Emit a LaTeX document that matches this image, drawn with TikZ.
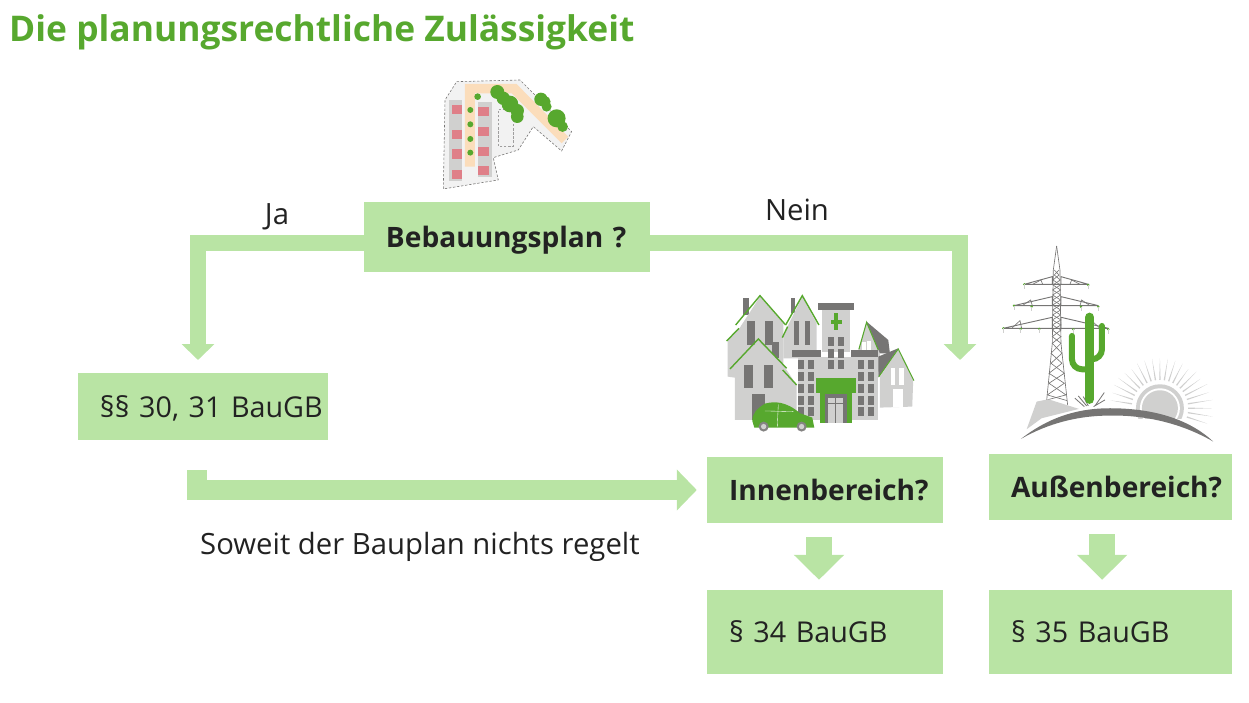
\documentclass[tikz,border=0pt]{standalone}
\usepackage{fontspec}
\setmainfont{Open Sans}
\usepackage{xcolor}
\usetikzlibrary{arrows.meta,calc}
\definecolor{boxgreen}{HTML}{B9E4A4}
\definecolor{leaf}{HTML}{57A82E}
\definecolor{ink}{HTML}{222222}
\definecolor{wall}{HTML}{D0D0CF}
\definecolor{slate}{HTML}{767574}
\definecolor{sand}{HTML}{FBDDBB}
\definecolor{brick}{HTML}{DF7F88}
\tikzset{
  box/.style={fill=boxgreen,inner ysep=0pt,inner xsep=.66cm,align=left,text=ink,text depth=0pt,font=\fontsize{24.5}{30}\selectfont},
  flow/.style={draw=boxgreen,line width=.48cm,-{Triangle[width=.96cm,length=.48cm]}},
  stub/.style={draw=boxgreen,line width=.78cm,-{Triangle[width=1.47cm,length=.75cm]},shorten <=.42cm,shorten >=.3cm},
  lbl/.style={text=ink,inner sep=0pt,font=\fontsize{25}{30}\selectfont},
  pic/.style={shift={#1},x=.01cm,y=-.01cm},
  mast/.style={draw=slate,line width=.55pt}
}
\begin{document}
\frenchspacing
\begin{tikzpicture}[x=.03cm,y=-.03cm]
\useasboundingbox (0,0) rectangle (1249,703);
\node[anchor=base west,inner sep=0pt,text=leaf,font=\fontsize{30.2}{34}\selectfont\bfseries] (title) at (9,42) {Die planungsrechtliche Zulässigkeit};
% boxes
\node[box,text width=7.26cm,minimum height=2.1cm,font=\fontsize{24}{30}\selectfont\bfseries] (bplan) at (507,237) {\mbox{Bebauungsplan ?}};
\node[box,text width=6.18cm,minimum height=2.01cm] (para3031) at (203,406.5) {\mbox{§§ 30, 31 BauGB}};
\node[box,text width=5.76cm,minimum height=1.98cm,font=\fontsize{24}{30}\selectfont\bfseries] (innen) at (825,490) {Innenbereich?};
\node[box,text width=5.97cm,minimum height=1.98cm,font=\fontsize{24}{30}\selectfont\bfseries] (aussen) at (1110.5,487) {Außenbereich?};
\node[box,text width=5.76cm,minimum height=2.52cm] (para34) at (825,632) {§ 34 BauGB};
\node[box,text width=5.97cm,minimum height=2.52cm] (para35) at (1110.5,632) {§ 35 BauGB};
\node[lbl] (ja) at (277,217) {Ja};
\node[lbl] (nein) at (797,210) {Nein};
\node[lbl,anchor=west] (soweit) at (200,547) {Soweit der Bauplan nichts regelt};
% connectors
\coordinate (jaend) at (198,360);
\coordinate (neinend) at (960,360);
\coordinate (bstart) at (197,470);
\draw[flow] (bplan.west |- 0,242.5) -| (jaend);
\draw[flow] (bplan.east |- 0,242.5) -| (neinend);
\draw[flow,line width=.6cm,-{Triangle[width=1.2cm,length=.6cm]},shorten >=.3cm] (bstart) |- (innen.west);
\draw[stub] ([xshift=-.18cm]innen.south) -- ([xshift=-.18cm]para34.north);
\draw[stub] ([xshift=-.25cm]aussen.south) -- ([xshift=-.25cm]para35.north);
% plan
\begin{scope}[pic={(430,70)}]
\fill[black!5] (80,35) -- (270,30) -- (425,185) -- (395,243) -- (310,170) -- (265,240) -- (190,263) -- (205,330) -- (40,357) -- (45,90) -- cycle;
\fill[wall] (57,90) rectangle (97,332);
\fill[wall] (143,95) rectangle (185,320);
\fill[sand] (105,42) -- (260,42) -- (415,200) -- (395,220) -- (245,70) -- (135,70) -- (135,290) -- (105,290) -- cycle;
\draw[slate,line width=.5pt,dash pattern=on 2pt off 1.5pt] (80,35) -- (270,30) -- (425,185) -- (395,243) -- (310,170) -- (265,240) -- (190,263) -- (205,330) -- (40,357) -- (45,90) -- cycle;
\draw[slate!70,line width=.5pt,dash pattern=on 2pt off 1.5pt] (250,150) -- (250,228) -- (205,228) -- (205,118) -- (225,118);
\foreach\y in {105,180,238,300}{\fill[brick] (66,\y) rectangle +(31,28);}
\foreach\y in {110,170,230,288}{\fill[brick] (145,\y) rectangle +(32,27);}
\foreach\y in {120,163,207,248}{\fill[leaf] (121,\y) circle[radius=9];}
\fill[leaf] (143,80) circle[radius=10];
\foreach\x/\y/\r in {202/66/21,220/85/20,240/102/25,262/122/20,262/140/19,333/88/20,345/95/17,350/110/15,380/145/27,398/170/16}{\fill[leaf] (\x,\y) circle[radius=\r];}
\end{scope}
% town
\begin{scope}[pic={(715,285)}]
\fill[wall] (430,195) -- (455,110) -- (495,200) -- (495,260) -- (430,260) -- cycle;
\fill[slate] (455,110) -- (520,165) -- (525,205) -- (495,205) -- cycle;
\fill[white] (440,172) rectangle (452,195);
\fill[white] (456,168) rectangle (468,195);
\draw[leaf,line width=.9pt] (432,193) -- (455,112) -- (490,195);
\fill[wall] (495,275) -- (550,195) -- (595,285) -- (592,365) -- (495,368) -- cycle;
\fill[slate] (490,215) -- (550,190) -- (490,278) -- cycle;
\fill[white] (527,250) rectangle (540,300);
\fill[white] (553,250) rectangle (567,300);
\fill[white] (533,313) rectangle (563,365);
\draw[leaf,line width=.9pt] (492,275) -- (550,192) -- (597,287);
% houses at the back
\fill[slate] (83,38) rectangle (102,90);
\fill[slate] (227,38) rectangle (240,85);
\fill[wall] (38,168) -- (70,135) -- (135,35) -- (205,115) -- (205,300) -- (38,275) -- cycle;
\fill[wall] (205,150) -- (262,35) -- (305,115) -- (305,220) -- (205,220) -- cycle;
\draw[leaf,line width=1.2pt] (35,168) -- (72,130) (62,120) -- (135,32) -- (212,120);
\draw[leaf,line width=1.2pt] (202,158) -- (218,125) (212,120) -- (262,32) -- (312,120);
\foreach\x/\w in {97/23,150/24,237/15,270/16}{\fill[slate] (\x,108) rectangle +(\w,72);}
\fill[slate] (172,170) rectangle (192,220);
% hospital
\fill[wall] (320,75) rectangle (405,200);
\fill[wall] (248,215) rectangle (490,405);
\fill[slate] (310,55) rectangle (417,75);
\fill[slate] (232,195) rectangle (318,215);
\fill[slate] (407,195) rectangle (490,215);
\fill[leaf] (347,105) rectangle (382,118);
\fill[leaf] (358,85) rectangle (370,135);
\foreach\y in {155,192,225}{\fill[slate] (340,\y) rectangle +(18,28);\fill[slate] (368,\y) rectangle +(19,28);}
\foreach\y in {225,261,297,333,366}{\foreach\x in {250,278,430,458}{\fill[slate] (\x,\y) rectangle +(18,27);}}
\fill[leaf] (303,280) rectangle (424,325);
\fill[leaf] (315,325) rectangle (410,413);
\fill[slate] (330,328) rectangle (397,413);
\fill[wall] (340,340) rectangle (385,413);
\fill[slate] (361,340) rectangle (364,413);
\fill[slate] (340,353) rectangle (385,357);
% front house
\fill[wall] (60,405) -- (60,250) -- (130,165) -- (205,240) -- (245,300) -- (245,405) -- cycle;
\draw[leaf,line width=1.2pt] (45,252) -- (130,162) -- (215,250) (203,255) -- (245,300);
\foreach\x in {88,148}{\fill[slate] (\x,240) rectangle +(27,70);}
\fill[slate] (110,328) rectangle (150,405);
% car
\fill[leaf] (112,408) .. controls (112,385) and (125,372) .. (150,356) .. controls (180,348) and (215,350) .. (255,385) -- (292,398) -- (298,428) -- (118,428) -- cycle;
\draw[white,line width=.3pt] (150,378) -- (235,380) (190,358) -- (187,425);
\foreach\x in {146,260}{\fill[slate!90] (\x,425) circle[radius=15];\fill[wall] (\x,425) circle[radius=8];}
\end{scope}
% pylon and cactus
\begin{scope}[pic={(995,240)}]
\draw[mast] (185,18) -- (175,90) -- (172,310) -- (155,482);
\draw[mast] (185,18) -- (195,90) -- (198,310) -- (218,495);
\draw[mast] (178,90) -- (192,105) -- (174,120) -- (196,135) -- (173,150) -- (197,165) -- (173,180) -- (197,195) -- (173,210) -- (197,225) -- (172,240) -- (198,255) -- (172,270) -- (198,290) -- (172,310) -- (201,340) -- (168,370) -- (208,400) -- (162,430) -- (213,465) -- (156,480);
\draw[mast] (192,90) -- (178,105) -- (196,120) -- (174,135) -- (197,150) -- (173,165) -- (197,180) -- (173,195) -- (197,210) -- (173,225) -- (198,240) -- (172,255) -- (198,270) -- (172,290) -- (198,310) -- (168,340) -- (201,370) -- (162,400) -- (208,430) -- (157,465) -- (216,482);
\foreach\w/\e/\y/\t in {88/280/133/110,57/310/197/170,25/340/265/232}{
  \draw[mast,line width=.8pt] (\w,\y) -- (\e,\y) (\w,\y) -- (172,\t) -- (172,\y) (\e,\y) -- (198,\t) -- (198,\y);
  \draw[mast] (\w+25,\y) -- (\w+50,\t+10) -- (\w+55,\y) (\e-25,\y) -- (\e-50,\t+10) -- (\e-55,\y);
}
\foreach\x/\y in {88/133,280/135,57/197,110/200,258/200,310/200,25/265,77/267,133/267,235/268,340/268}{\fill[leaf] (\x,\y) circle[radius=4];\draw[wall,line width=.5pt] (\x,\y) -- +(0,13);}
% sun
\foreach\a/\l [evaluate=\a as \b using -\a] in {-18/150,-9/160,0/155,9/160,18/155,27/160,36/150,45/155,54/145,63/150,72/150,81/150,90/150,99/150,108/150,117/150,126/145,135/150,144/155,153/155,162/150,171/150}{
  \fill[wall] ($(495,505)+(\b-1.4:85)$) -- ($(495,505)+(\b:\l)$) -- ($(495,505)+(\b+1.4:85)$) -- cycle;
}
\begin{scope}
\clip (400,420) rectangle (600,535);
\fill[wall] (495,505) circle[radius=72];
\fill[white] (495,505) circle[radius=60];
\fill[wall] (495,505) circle[radius=54];
\end{scope}
% ground
\fill[wall] (95,568) -- (125,485) -- (160,478) -- (252,507) -- (140,535) -- cycle;
\fill[slate] (78,597) .. controls (170,525) and (260,505) .. (345,505) .. controls (470,505) and (580,535) .. (655,605) .. controls (560,550) and (450,525) .. (345,527) .. controls (250,527) and (160,550) .. (78,597) -- cycle;
% cactus
\draw[slate,line width=.7pt] (240,475) -- (268,500) (250,468) -- (275,498) (328,458) -- (300,498) (330,480) -- (296,500) (265,470) -- (280,498);
\draw[leaf,line width=.28cm,line cap=round] (284,232) -- (284,478);
\draw[leaf,line width=.18cm,line cap=round,rounded corners=.3cm] (231,288) -- (231,388) -- (284,388);
\draw[leaf,line width=.18cm,line cap=round,rounded corners=.3cm] (321,258) -- (321,358) -- (284,358);
\end{scope}
\end{tikzpicture}
\end{document}
